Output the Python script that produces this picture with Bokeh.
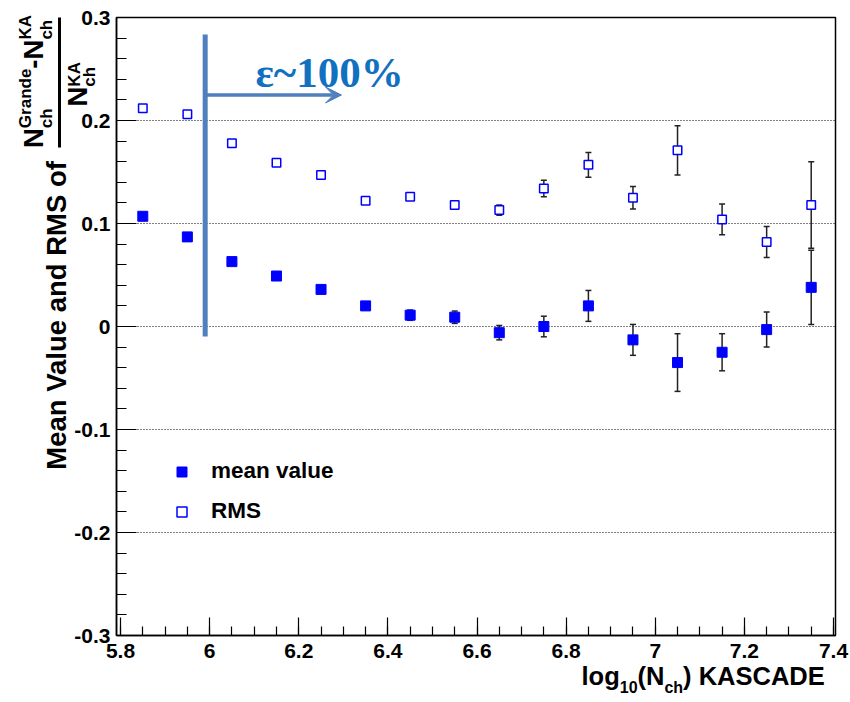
import json
from bokeh.plotting import figure
from bokeh.models import (ColumnDataSource, Whisker, TeeHead, Label, Arrow, VeeHead,
                          Legend, LegendItem, FixedTicker, CustomJSTickFormatter, Range1d,
                          LinearAxis)
from bokeh.embed import file_html
from bokeh.resources import INLINE

# ---------------- data ----------------
bin_centers = [5.85, 5.95, 6.05, 6.15, 6.25, 6.35, 6.45, 6.55,
               6.65, 6.75, 6.85, 6.95, 7.05, 7.15, 7.25, 7.35]
mean_value = [0.107, 0.087, 0.063, 0.049, 0.036, 0.020, 0.011, 0.009,
              -0.006, 0.000, 0.020, -0.013, -0.035, -0.025, -0.003, 0.038]
mean_error = [0.002, 0.002, 0.002, 0.003, 0.003, 0.003, 0.005, 0.006,
              0.007, 0.010, 0.015, 0.015, 0.028, 0.018, 0.017, 0.036]
rms_value = [0.212, 0.206, 0.178, 0.159, 0.147, 0.122, 0.126, 0.118,
             0.113, 0.134, 0.157, 0.125, 0.171, 0.104, 0.082, 0.118]
rms_error = [0.001, 0.001, 0.002, 0.002, 0.002, 0.003, 0.003, 0.003,
             0.005, 0.008, 0.012, 0.011, 0.024, 0.015, 0.015, 0.042]
series_labels = ["mean value", "RMS"]
x_major_ticks = [5.8, 6.0, 6.2, 6.4, 6.6, 6.8, 7.0, 7.2, 7.4]
y_major_ticks = [-0.3, -0.2, -0.1, 0.0, 0.1, 0.2, 0.3]
threshold_x = 5.99          # efficiency ~100% threshold
annotation_text = "ε~100%"

# ---------------- geometry ----------------
W, H = 850, 702
FL, FT, FR, FB = 116, 17, 835, 635
FW, FH = FR - FL, FB - FT
X0, X1 = 5.791, 7.4045
Y0, Y1 = -0.3, 0.3


def sx(px):
    return X0 + (px - FL) * (X1 - X0) / FW


def sy(py):
    return Y1 - (py - FT) * (Y1 - Y0) / FH


FONT = "Liberation Sans"
ASC, DESC = 0.905, 0.212
HEM = ASC + DESC
EXT = 1.28                      # label box extent used by the axis layout (per px of font size)
ADV = {' ': .278, '(': .333, ')': .333, '-': .333, '.': .278, '0': .556, '1': .556,
       '2': .556, '3': .556,
       'A': .722, 'C': .722, 'D': .722, 'E': .667, 'G': .778, 'K': .722,
       'M': .833, 'N': .722, 'R': .722, 'S': .667, 'V': .667,
       'a': .556, 'c': .556, 'd': .611, 'e': .556, 'f': .333, 'g': .611,
       'h': .611, 'l': .278, 'n': .611, 'o': .611, 'r': .389, 'u': .611}


def tlen(t, s):
    return sum(ADV.get(c, .6) for c in t) * s


p = figure(width=W, height=H, x_range=Range1d(X0, X1), y_range=Range1d(Y0, Y1),
           output_backend="svg", toolbar_location=None,
           min_border_left=FL, min_border_right=W - FR,
           min_border_top=FT, min_border_bottom=H - FB)
p.background_fill_color = "white"
p.border_fill_color = "white"
p.outline_line_color = "black"
p.outline_line_width = 1.5

# main axes
TICK_FS = 21
x_minor = [round(5.8 + 0.05 * i, 3) for i in range(33)]
y_minor = [round(-0.3 + 0.02 * i, 3) for i in range(31)]
p.xaxis.ticker = FixedTicker(ticks=x_major_ticks, minor_ticks=x_minor)
p.yaxis.ticker = FixedTicker(ticks=y_major_ticks, minor_ticks=y_minor)
fmt = "return (Math.round(tick*10)/10).toString();"
p.xaxis.formatter = CustomJSTickFormatter(code=fmt)
p.yaxis.formatter = CustomJSTickFormatter(code=fmt)
X_STANDOFF, Y_STANDOFF = 8, 6
for ax, big, small, sto in ((p.xaxis, 18, 9, X_STANDOFF), (p.yaxis, 20, 10, Y_STANDOFF)):
    ax.major_tick_in = big
    ax.major_tick_out = 0
    ax.minor_tick_in = small
    ax.minor_tick_out = 0
    ax.major_tick_line_color = "black"
    ax.minor_tick_line_color = "black"
    ax.major_tick_line_width = 1.2
    ax.minor_tick_line_width = 1.2
    ax.axis_line_color = "black"
    ax.axis_line_width = 1.5
    ax.major_label_text_font = FONT
    ax.major_label_text_font_style = "bold"
    ax.major_label_text_font_size = f"{TICK_FS}px"
    ax.major_label_text_color = "black"
    ax.major_label_standoff = sto

p.xgrid.visible = False
p.ygrid.grid_line_color = "black"
p.ygrid.grid_line_dash = "1 2"
p.ygrid.grid_line_width = 1

# error bars
src_mean = ColumnDataSource(dict(x=bin_centers, y=mean_value,
                                 lo=[v - e for v, e in zip(mean_value, mean_error)],
                                 hi=[v + e for v, e in zip(mean_value, mean_error)]))
src_rms = ColumnDataSource(dict(x=bin_centers, y=rms_value,
                                lo=[v - e for v, e in zip(rms_value, rms_error)],
                                hi=[v + e for v, e in zip(rms_value, rms_error)]))
for src in (src_mean, src_rms):
    w = Whisker(base="x", lower="lo", upper="hi", source=src, dimension="height",
                line_color="#222222", line_width=1.5, level="underlay",
                upper_head=TeeHead(size=6, line_color="#222222", line_width=1.5),
                lower_head=TeeHead(size=6, line_color="#222222", line_width=1.5))
    p.add_layout(w)

r_mean = p.scatter("x", "y", source=src_mean, marker="square", size=10,
                   fill_color="#0000ff", line_color="#0000ff", line_width=1)
r_rms = p.scatter("x", "y", source=src_rms, marker="square", size=8.5,
                  fill_color="white", line_color="#0000ff", line_width=1.5)

legend = Legend(items=[LegendItem(label=series_labels[0], renderers=[r_mean]),
                       LegendItem(label=series_labels[1], renderers=[r_rms])],
                location=(53, 111), padding=0, margin=0, spacing=14,
                glyph_width=25, glyph_height=25, label_height=25, label_standoff=17,
                border_line_alpha=0, background_fill_alpha=0,
                label_text_font=FONT, label_text_font_style="bold",
                label_text_font_size="22.5px", label_text_color="black")
p.add_layout(legend)

# threshold line and arrow
line_col = "#4F7FBD"
p.add_layout(Arrow(end=None, x_start=threshold_x, y_start=sy(34), x_end=threshold_x,
                   y_end=sy(336), line_width=5, line_color=line_col))
p.add_layout(Arrow(end=VeeHead(size=16, fill_color=line_col, line_color=line_col),
                   x_start=threshold_x, y_start=sy(94.5), x_end=sx(341), y_end=sy(94.5),
                   line_width=3.5, line_color=line_col))
p.add_layout(Label(x=sx(255), y=sy(72), text=annotation_text, text_font="Liberation Serif",
                   text_font_style="bold", text_font_size="43px", text_color="#1170C0",
                   text_align="left", text_baseline="alphabetic"))


# ---------------- axis titles: pieces drawn as tick labels of extra axes ----------------
def label_formatter(mapping):
    return CustomJSTickFormatter(code="const m = %s; const k = tick.toFixed(5); "
                                      "return (k in m) ? m[k] : '';" % json.dumps(mapping))


def text_axis(side, pieces, size, standoff, orientation):
    vals, mapping = [], {}
    for (t, v) in pieces:
        v = round(v, 5)
        vals.append(v)
        mapping[f"{v:.5f}"] = t
    ax = LinearAxis(ticker=FixedTicker(ticks=vals, minor_ticks=[]),
                    formatter=label_formatter(mapping),
                    major_tick_in=0, major_tick_out=0, minor_tick_in=0, minor_tick_out=0,
                    major_tick_line_color=None, minor_tick_line_color=None,
                    axis_line_color=None, major_label_standoff=int(standoff),
                    major_label_orientation=orientation,
                    major_label_text_font=FONT, major_label_text_font_style="bold",
                    major_label_text_font_size=f"{size}px", major_label_text_color="black")
    p.add_layout(ax, side)


def bar_axis(side, lo, hi, width):
    ax = LinearAxis(ticker=FixedTicker(ticks=[], minor_ticks=[]), bounds=(lo, hi),
                    major_tick_in=0, major_tick_out=0, minor_tick_in=0, minor_tick_out=0,
                    axis_line_color="black", axis_line_width=width, major_label_standoff=0)
    p.add_layout(ax, side)


# --- y title: rotated pieces (text runs upward); key = (font size, baseline x)
S, T = 27.5, 17
left_groups = {}


def add_v(text, size, bx, center_py):
    left_groups.setdefault((size, bx), []).append((text, sy(center_py)))


def vrun(start_py, groups):
    y = start_py
    for g in groups:
        for (t, s, bx) in g:
            add_v(t, s, bx, y - tlen(t, s) / 2)
        y -= max(tlen(t, s) for (t, s, bx) in g)


vrun(470, [[("Mean Value and RMS of", S, 67)]])
vrun(147.5, [[("N", S, 45)], [("ch", T, 53), ("Grande", T, 32)], [("-", S, 45)],
             [("N", S, 45)], [("ch", T, 53), ("KA", T, 32)]])
vrun(106, [[("N", S, 90)], [("ch", T, 98), ("KA", T, 81)]])
BAR_TOP, BAR_BOTTOM = 17, 147

ytick_w = max(tlen(str(round(v, 1)) if v != 0 else "0", TICK_FS) for v in y_major_ticks)
R = FL - round(Y_STANDOFF + ytick_w)
# Each extra axis: label box bottom lands at R - standoff; the panel grows only when the
# label box reaches left of the current panel edge.
order = [(T, 98), (S, 90), "bar", (S, 45), (T, 32), (T, 81), (S, 67), (T, 53)]
for item in order:
    if item == "bar":
        bar_axis("left", sy(BAR_BOTTOM), sy(BAR_TOP), 3)
        continue
    size, bx = item
    bottom = bx + DESC * size
    so = round(R - bottom)
    text_axis("left", left_groups[item], size, so, "parallel")
    t = EXT * size + so
    if t > 0:
        R -= t

# --- x title: horizontal pieces; main text and subscripts on two extra axes
XS, XT = 25.5, 16
MAIN_BASE, SUB_BASE = 688, 698.5
main_pieces, sub_pieces = [], []
x = 581
for (t, sub) in [("log", False), ("10", True), ("(N", False), ("ch", True), (") KASCADE", False)]:
    s = XT if sub else XS
    L = tlen(t, s)
    (sub_pieces if sub else main_pieces).append((t, sx(x + L / 2)))
    x += L
RB = FB + round(X_STANDOFF + HEM * TICK_FS)
so_sub = round((SUB_BASE - ASC * XT) - RB)
text_axis("below", sub_pieces, XT, so_sub, "horizontal")
RB += round(HEM * XT + so_sub)
so_main = round((MAIN_BASE - ASC * XS) - RB)
text_axis("below", main_pieces, XS, so_main, "horizontal")

open("out.html", "w").write(file_html(p, INLINE))
